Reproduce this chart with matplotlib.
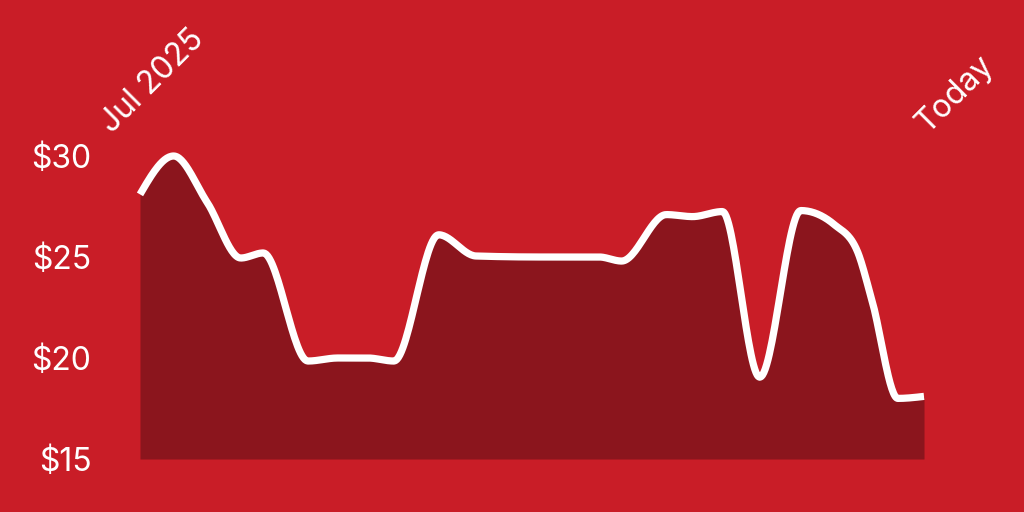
import numpy as np
import matplotlib.pyplot as plt

plt.rcParams['font.family'] = ['Inter', 'DejaVu Sans']

# days since 1 Jul 2025 and price in dollars
days = [0, 9, 18, 27, 33, 45, 53, 61, 68, 80, 90, 107, 123, 129, 141, 148, 156, 166, 177, 186,
        192, 196, 203, 210]
price = [28.1, 30.0, 27.7, 24.95, 25.2, 19.85, 20.0, 20.0, 19.85, 26.1, 25.05, 25.0, 25.0, 24.8,
         27.1, 27.0, 27.25, 19.05, 27.3, 26.6, 25.35, 22.9, 18.0, 18.1]
yticks = [15, 20, 25, 30]
ytick_labels = ['$15', '$20', '$25', '$30']

bg = '#c91d27'
fill = '#8b151d'


def monotone(x, y, n=30):
    # monotone cubic (Steffen) like d3.curveMonotoneX
    x = np.asarray(x, float)
    y = np.asarray(y, float)
    h = np.diff(x)
    d = np.diff(y) / h
    m = np.zeros_like(y)
    for i in range(1, len(y) - 1):
        p = (d[i - 1] * h[i] + d[i] * h[i - 1]) / (h[i - 1] + h[i])
        m[i] = (np.sign(d[i - 1]) + np.sign(d[i])) * min(abs(d[i - 1]), abs(d[i]), 0.5 * abs(p))
    m[0] = (3 * d[0] - m[1]) / 2
    m[-1] = (3 * d[-1] - m[-2]) / 2
    xs, ys = [], []
    for i in range(len(h)):
        t = np.linspace(0, 1, n, endpoint=False)
        h00 = 2 * t**3 - 3 * t**2 + 1
        h10 = t**3 - 2 * t**2 + t
        h01 = -2 * t**3 + 3 * t**2
        h11 = t**3 - t**2
        xs.append(x[i] + t * h[i])
        ys.append(h00 * y[i] + h10 * h[i] * m[i] + h01 * y[i + 1] + h11 * h[i] * m[i + 1])
    xs.append([x[-1]])
    ys.append([y[-1]])
    return np.concatenate(xs), np.concatenate(ys)


fig = plt.figure(figsize=(10.24, 5.12), dpi=100, facecolor=bg)
ax = fig.add_axes([140 / 1024, 1 - 459 / 512, 784 / 1024, 303 / 512])
ax.set_facecolor(bg)

sx, sy = monotone(days, price)
ax.fill_between(sx, 15, sy, color=fill, lw=0)
ax.plot(sx, sy, color='white', lw=5.2, solid_capstyle='butt', clip_on=False)

ax.set_xlim(days[0], days[-1])
ax.set_ylim(15, 30)
ax.set_yticks(yticks)
ax.set_yticklabels(ytick_labels)
ax.set_xticks([])
ax.tick_params(axis='y', length=0, pad=35, labelsize=23, labelcolor='white')
for s in ax.spines.values():
    s.set_visible(False)

fig.text(112 / 1024, 1 - 134 / 512, 'Jul 2025', rotation=45, rotation_mode='anchor',
         ha='left', va='baseline', color='white', fontsize=23)
fig.text(928 / 1024, 1 - 134 / 512, 'Today', rotation=45, rotation_mode='anchor',
         ha='left', va='baseline', color='white', fontsize=23)

fig.savefig('out.png', dpi=100, facecolor=bg)
